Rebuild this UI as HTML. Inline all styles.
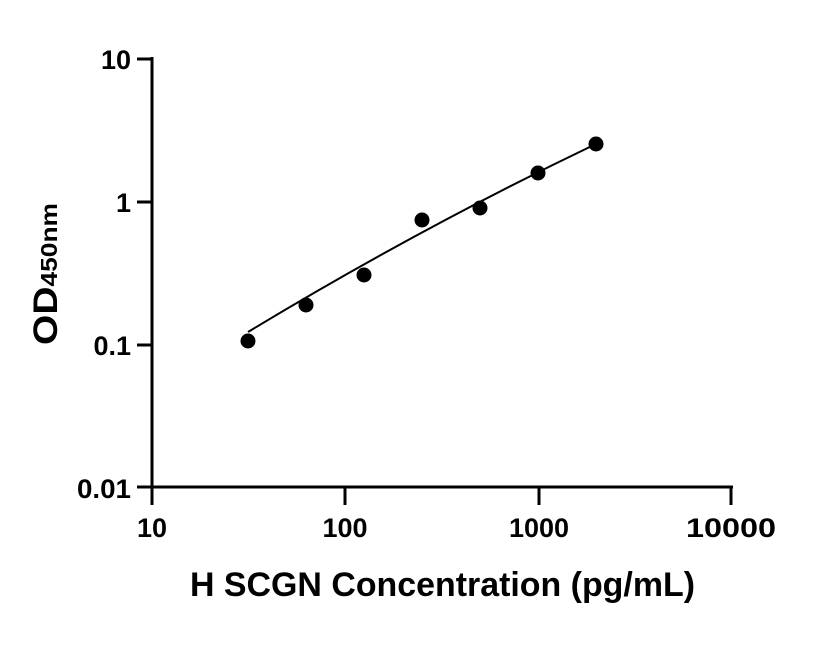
<!DOCTYPE html>
<html><head><style>body{margin:0;background:#fff}</style></head><body>
<svg width="816" height="640" xmlns="http://www.w3.org/2000/svg" font-family="Liberation Sans, sans-serif" font-weight="bold">
<g stroke="#000" stroke-width="3" fill="none">
<line x1="152" y1="57" x2="152" y2="489"/>
<line x1="151" y1="487" x2="733" y2="487"/>
<line x1="137" y1="59" x2="152" y2="59"/>
<line x1="137" y1="202" x2="152" y2="202"/>
<line x1="137" y1="345" x2="152" y2="345"/>
<line x1="137" y1="487" x2="152" y2="487"/>
<line x1="152" y1="487" x2="152" y2="505"/>
<line x1="345" y1="487" x2="345" y2="505"/>
<line x1="539" y1="487" x2="539" y2="505"/>
<line x1="731" y1="487" x2="731" y2="505"/>
</g>
<path d="M248,332 Q420,228 598,143" stroke="#000" stroke-width="2" fill="none"/>
<g fill="#000">
<circle cx="248" cy="341" r="7.5"/>
<circle cx="306" cy="305" r="7.5"/>
<circle cx="364" cy="275" r="7.5"/>
<circle cx="422" cy="220" r="7.5"/>
<circle cx="480" cy="208" r="7.5"/>
<circle cx="538" cy="173" r="7.5"/>
<circle cx="596" cy="144" r="7.5"/>
</g>
<g font-size="27" text-anchor="end">
<text x="131" y="69">10</text>
<text x="131" y="212">1</text>
<text x="131" y="355">0.1</text>
<text x="131" y="498" textLength="54" lengthAdjust="spacingAndGlyphs">0.01</text>
</g>
<g font-size="27" text-anchor="middle">
<text x="152" y="537">10</text>
<text x="345" y="537">100</text>
<text x="539" y="537">1000</text>
<text x="731" y="537" textLength="90" lengthAdjust="spacingAndGlyphs">10000</text>
</g>
<text x="190" y="596" font-size="34" textLength="505" lengthAdjust="spacingAndGlyphs">H SCGN Concentration (pg/mL)</text>
<text transform="translate(57,345) rotate(-90)" font-size="34" textLength="142" lengthAdjust="spacingAndGlyphs">OD<tspan font-size="23">450nm</tspan></text>
</svg>
</body></html>
